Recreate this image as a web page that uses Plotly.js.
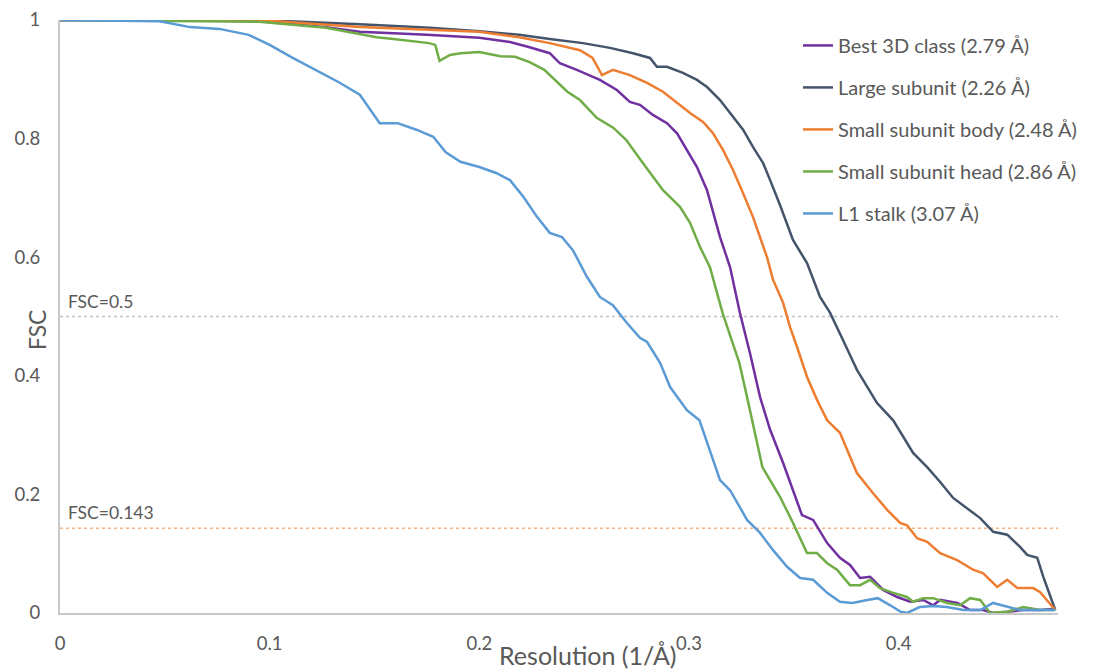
<!DOCTYPE html>
<html>
<head>
<meta charset="utf-8">
<script src="https://cdn.plot.ly/plotly-3.0.1.min.js"></script>
<style>html,body{margin:0;padding:0;background:#fff;}#chart{width:1110px;height:672px;}</style>
</head>
<body>
<div id="chart"></div>
<script>
// Series names
const seriesNames = [
  "Best 3D class (2.79 Å)",
  "Large subunit (2.26 Å)",
  "Small subunit body (2.48 Å)",
  "Small subunit head (2.86 Å)",
  "L1 stalk (3.07 Å)"
];
const seriesColors = ["#7030A0", "#44546A", "#ED7D31", "#70AD47", "#5B9BD5"];

// Best 3D class
const bestX = [0,0.0475,0.095,0.127,0.143,0.159,0.175,0.200,0.2146,0.224,0.2336,0.2384,0.2465,0.2575,0.2656,0.2718,0.2766,0.2828,0.2895,0.2943,0.299,0.3038,0.3086,0.3115,0.3148,0.3196,0.3243,0.3291,0.3339,0.3387,0.3449,0.3496,0.3539,0.3592,0.3659,0.372,0.3768,0.3816,0.3864,0.3926,0.3993,0.4055,0.4117,0.4165,0.4198,0.428,0.4341,0.4403,0.445,0.4518,0.4594,0.4675,0.4747];
const bestY = [1,1.0,0.998,0.988,0.980,0.978,0.975,0.970,0.963,0.954,0.944,0.927,0.916,0.899,0.882,0.862,0.857,0.840,0.826,0.809,0.781,0.752,0.713,0.675,0.634,0.583,0.506,0.438,0.364,0.309,0.253,0.207,0.165,0.157,0.118,0.093,0.081,0.059,0.061,0.039,0.027,0.019,0.022,0.013,0.022,0.017,0.005,0.005,0.0,0.002,0.005,0.005,0.007];

// Large subunit
const largeX = [0,0.095,0.143,0.1764,0.200,0.219,0.2336,0.2494,0.2623,0.2733,0.2814,0.2847,0.2895,0.2971,0.3038,0.3086,0.3148,0.321,0.3258,0.3305,0.3353,0.3387,0.3434,0.3496,0.3563,0.3625,0.3673,0.3735,0.3801,0.383,0.3897,0.3974,0.4069,0.4136,0.4198,0.426,0.4327,0.4389,0.4451,0.4518,0.458,0.4613,0.4661,0.469,0.4747];
const largeY = [1,1.0,0.993,0.987,0.981,0.975,0.968,0.961,0.953,0.944,0.936,0.921,0.921,0.911,0.899,0.887,0.865,0.836,0.815,0.786,0.759,0.730,0.688,0.629,0.590,0.533,0.506,0.460,0.410,0.393,0.354,0.325,0.270,0.246,0.221,0.194,0.177,0.160,0.137,0.132,0.111,0.098,0.093,0.061,0.005];

// Small subunit body
const bodyX = [0,0.095,0.143,0.175,0.200,0.219,0.2336,0.248,0.254,0.2585,0.2637,0.2718,0.2800,0.2876,0.2943,0.3005,0.3067,0.3115,0.3162,0.321,0.3258,0.3305,0.3372,0.3401,0.3449,0.3482,0.3515,0.3563,0.3611,0.3659,0.372,0.3801,0.3878,0.3945,0.4007,0.404,0.4088,0.4136,0.4198,0.4279,0.4355,0.4403,0.447,0.4518,0.4566,0.4642,0.4675,0.4747];
const bodyY = [1,1.0,0.988,0.983,0.980,0.971,0.961,0.949,0.936,0.907,0.916,0.907,0.894,0.879,0.860,0.843,0.828,0.809,0.781,0.747,0.708,0.668,0.600,0.562,0.523,0.482,0.449,0.398,0.359,0.325,0.304,0.236,0.202,0.174,0.152,0.148,0.126,0.120,0.101,0.089,0.073,0.067,0.044,0.056,0.042,0.042,0.035,0.005];

// Small subunit head
const headX = [0,0.0475,0.095,0.127,0.140,0.151,0.159,0.176,0.179,0.181,0.186,0.191,0.200,0.210,0.217,0.224,0.231,0.2375,0.242,0.248,0.256,0.264,0.270,0.278,0.2876,0.2957,0.3005,0.3053,0.310,0.316,0.324,0.3277,0.335,0.3434,0.3496,0.3563,0.361,0.3659,0.3706,0.3768,0.3816,0.3864,0.3911,0.3974,0.404,0.4069,0.4117,0.4165,0.4231,0.4293,0.4341,0.4389,0.4436,0.4518,0.4594,0.4675,0.4747];
const headY = [1,0.998,0.997,0.987,0.978,0.971,0.968,0.961,0.958,0.931,0.941,0.944,0.946,0.939,0.938,0.929,0.916,0.895,0.879,0.865,0.835,0.818,0.798,0.759,0.713,0.685,0.658,0.617,0.583,0.506,0.422,0.364,0.246,0.196,0.152,0.101,0.101,0.084,0.073,0.047,0.047,0.056,0.042,0.034,0.027,0.019,0.025,0.025,0.017,0.013,0.025,0.022,0.0,0.002,0.010,0.005,0.005];

// L1 stalk
const stalkX = [0,0.0475,0.062,0.076,0.090,0.100,0.111,0.122,0.133,0.143,0.1525,0.161,0.170,0.178,0.184,0.191,0.200,0.208,0.2146,0.221,0.2275,0.2336,0.2394,0.2446,0.2513,0.2575,0.2637,0.2704,0.2766,0.280,0.2862,0.291,0.299,0.305,0.3148,0.3196,0.3277,0.3339,0.3401,0.3468,0.353,0.3592,0.3659,0.372,0.378,0.385,0.390,0.396,0.401,0.404,0.410,0.4165,0.423,0.431,0.439,0.445,0.452,0.458,0.464,0.4747];
const stalkY = [1,0.998,0.988,0.985,0.975,0.958,0.936,0.916,0.895,0.874,0.826,0.826,0.815,0.803,0.777,0.761,0.752,0.742,0.730,0.702,0.668,0.641,0.634,0.612,0.567,0.533,0.519,0.489,0.464,0.457,0.422,0.381,0.342,0.325,0.224,0.207,0.157,0.135,0.106,0.078,0.059,0.056,0.034,0.019,0.017,0.022,0.025,0.013,0.002,0.0,0.010,0.012,0.010,0.005,0.005,0.017,0.010,0.005,0.005,0.005];

// Thresholds
const thresholdValues = [0.5, 0.143];
const thresholdLabels = ["FSC=0.5", "FSC=0.143"];
const thresholdColors = ["#BFBFBF", "#F4B183"];

// Axis ticks
const xTickVals = [0, 0.1, 0.2, 0.3, 0.4];
const xTickText = ["0", "0.1", "0.2", "0.3", "0.4"];
const yTickVals = [0, 0.2, 0.4, 0.6, 0.8, 1];
const yTickText = ["0", "0.2", "0.4", "0.6", "0.8", "1"];

const xs = [bestX, largeX, bodyX, headX, stalkX];
const ys = [bestY, largeY, bodyY, headY, stalkY];

const FONT = "Lato, 'Open Sans', sans-serif";
const GREY = "#595959";

const traces = seriesNames.map((n, i) => ({
  type: "scatter", mode: "lines", name: n, x: xs[i], y: ys[i],
  line: {color: seriesColors[i], width: 2.5},
  legendgroup: "g" + i
}));

const shapes = thresholdValues.map((v, i) => ({
  type: "line", xref: "paper", x0: 0, x1: 1, yref: "y", y0: v, y1: v,
  line: {color: thresholdColors[i], width: 1.5, dash: "dot"}, layer: "below"
}));

const annotations = thresholdValues.map((v, i) => ({
  xref: "paper", x: 0.006, xanchor: "left", yref: "y", y: v, yanchor: "bottom", yshift: 3,
  text: thresholdLabels[i], showarrow: false, font: {family: FONT, size: 17.5, color: GREY}
}));
annotations.push({
  xref: "paper", x: (587 - 60) / 998, xanchor: "center", yref: "paper", y: -42 / 593, yanchor: "middle",
  text: "Resolution (1/Å)", showarrow: false, font: {family: FONT, size: 25, color: GREY}
});
annotations.push({
  xref: "paper", x: -23 / 998, xanchor: "center", yref: "paper", y: (613 - 330) / 593, yanchor: "middle",
  text: "FSC", textangle: -90, showarrow: false, font: {family: FONT, size: 23, color: GREY}
});

const layout = {
  width: 1110, height: 672,
  margin: {l: 60, r: 52, t: 20, b: 59},
  paper_bgcolor: "#fff", plot_bgcolor: "#fff",
  font: {family: FONT, color: GREY},
  showlegend: true,
  legend: {
    x: (798 - 60) / 998, xanchor: "left", y: 0.99, yanchor: "top",
    font: {family: FONT, size: 20, color: GREY},
    tracegroupgap: 13, bgcolor: "rgba(0,0,0,0)"
  },
  xaxis: {
    range: [0, 0.476], tickvals: xTickVals, ticktext: xTickText,
    showgrid: false, zeroline: false, showline: true, linecolor: "#C8C8C8", linewidth: 2,
    ticks: "", ticklabelstandoff: 13, tickfont: {family: FONT, size: 18.5, color: GREY}
  },
  yaxis: {
    range: [0, 1], tickvals: yTickVals, ticktext: yTickText,
    showgrid: false, zeroline: false, showline: true, linecolor: "#C8C8C8", linewidth: 2,
    ticks: "", ticklabelstandoff: 14, tickfont: {family: FONT, size: 18.5, color: GREY}
  },
  shapes: shapes,
  annotations: annotations
};

Plotly.newPlot("chart", traces, layout, {displayModeBar: false, staticPlot: true});
</script>
</body>
</html>
